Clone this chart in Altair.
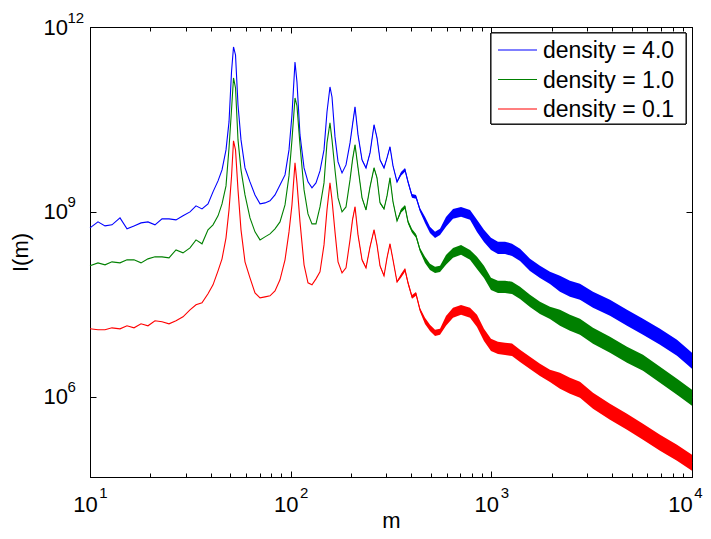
import altair as alt
import pandas as pd

# ---- data (m, and log10 of I(m)) ----
m = [10.0, 10.96, 11.88, 12.87, 14.11, 15.29, 16.57, 17.96, 19.45, 21.08,
     22.85, 24.76, 26.83, 29.07, 31.50, 33.75, 36.15, 38.73, 41.02, 43.45,
     45.49, 47.62, 49.29, 50.72, 51.90, 53.11, 54.65, 56.56, 59.21, 62.70,
     66.41, 70.36, 74.50, 78.89, 83.54, 88.46, 93.72, 98.10, 101.5, 105.1,
     107.5, 111.3, 116.6, 122.0, 127.7, 133.7, 140.0, 146.6, 151.7, 157.0,
     160.7, 166.3, 172.2, 180.3, 188.7, 197.6, 203.3, 209.3, 216.6, 226.8,
     237.4, 248.6, 260.3, 269.3, 278.8, 291.9, 302.1, 312.6, 323.6, 338.8,
     354.7, 371.4, 384.4, 402.4, 421.3, 441.1, 467.1, 494.6, 524.1, 555.0,
     594.4, 644.2, 706.3, 783.1, 848.3, 919.1, 996.1, 1079, 1170, 1268,
     1390, 1558, 1748, 1960, 2198, 2466, 2765, 3211, 3902, 4743,
     5698, 6928, 8418, 10000]

log_I_d40 = [8.741, 8.838, 8.773, 8.790, 8.903, 8.725, 8.773, 8.822, 8.838, 8.790,
             8.887, 8.887, 8.871, 8.936, 9.000, 9.098, 9.049, 9.130, 9.325, 9.503,
             9.681, 10.006, 10.460, 11.271, 11.676, 11.546, 10.735, 10.168, 9.714, 9.487,
             9.276, 9.130, 9.146, 9.179, 9.276, 9.438, 9.600, 10.006, 10.573, 11.433,
             11.108, 10.249, 9.714, 9.487, 9.390, 9.471, 9.665, 10.006, 10.622, 11.027,
             10.865, 10.217, 9.811, 9.633, 9.763, 10.119, 10.411, 10.703, 10.249, 9.844,
             9.714, 9.957, 10.411, 10.200, 9.844, 9.714, 9.876, 10.054, 9.746, 9.487,
             9.617, 9.681, 9.487, 9.260, 9.244, 9.033, 8.871, 8.709, 8.627, 8.676,
             8.838, 8.968, 9.000, 8.952, 8.773, 8.611, 8.482, 8.417, 8.417, 8.384,
             8.303, 8.141, 8.028, 7.930, 7.833, 7.752, 7.703, 7.573, 7.444, 7.282,
             7.136, 6.974, 6.795, 6.584]

log_I_d10 = [8.125, 8.173, 8.141, 8.190, 8.173, 8.222, 8.222, 8.173, 8.238, 8.271,
             8.271, 8.255, 8.384, 8.336, 8.417, 8.546, 8.482, 8.709, 8.790, 8.936,
             9.130, 9.422, 10.038, 10.654, 11.173, 11.011, 10.168, 9.681, 9.276, 8.903,
             8.676, 8.546, 8.595, 8.644, 8.725, 8.838, 9.114, 9.584, 10.168, 10.849,
             10.719, 10.087, 9.357, 8.968, 8.806, 8.806, 9.081, 9.471, 10.119, 10.444,
             10.168, 9.681, 9.227, 9.000, 9.081, 9.519, 9.844, 10.087, 9.714, 9.227,
             9.033, 9.406, 9.714, 9.552, 9.146, 9.049, 9.260, 9.552, 9.163, 8.854,
             9.017, 9.081, 8.838, 8.692, 8.611, 8.384, 8.222, 8.109, 8.060, 8.076,
             8.222, 8.336, 8.384, 8.303, 8.173, 8.028, 7.833, 7.784, 7.784, 7.768,
             7.687, 7.557, 7.444, 7.363, 7.282, 7.201, 7.136, 6.990, 6.844, 6.682,
             6.552, 6.357, 6.163, 5.984]

log_I_d01 = [7.103, 7.087, 7.087, 7.119, 7.103, 7.152, 7.119, 7.184, 7.152, 7.233,
             7.217, 7.184, 7.233, 7.298, 7.411, 7.492, 7.525, 7.671, 7.817, 8.044,
             8.238, 8.579, 9.033, 9.568, 10.152, 10.006, 9.357, 8.709, 8.190, 7.930,
             7.687, 7.606, 7.622, 7.638, 7.719, 7.898, 8.222, 8.676, 9.114, 9.795,
             9.471, 8.838, 8.141, 7.849, 7.817, 7.914, 8.028, 8.465, 9.033, 9.471,
             9.195, 8.676, 8.190, 8.011, 8.092, 8.546, 8.871, 9.081, 8.627, 8.222,
             8.092, 8.433, 8.709, 8.465, 8.125, 7.963, 8.255, 8.482, 8.222, 7.865,
             7.963, 8.060, 7.849, 7.622, 7.671, 7.411, 7.233, 7.119, 7.038, 7.055,
             7.233, 7.363, 7.411, 7.363, 7.233, 7.006, 6.844, 6.795, 6.779, 6.763,
             6.665, 6.552, 6.438, 6.341, 6.260, 6.179, 6.114, 5.936, 5.757, 5.595,
             5.433, 5.255, 5.093, 4.930]

# half-width of the noisy band (decades)
noise = [0, 0, 0, 0, 0, 0, 0, 0, 0, 0,
         0, 0, 0, 0, 0, 0, 0, 0, 0, 0,
         0, 0, 0, 0, 0, 0, 0, 0, 0, 0,
         0, 0, 0, 0, 0, 0, 0, 0, 0, 0,
         0, 0, 0, 0, 0, 0, 0, 0, 0, 0,
         0, 0, 0, 0, 0, 0, 0.015, 0.015, 0.015, 0.015,
         0.015, 0.015, 0.015, 0.015, 0.015, 0.015, 0.015, 0.015, 0.015, 0.015,
         0.03, 0.03, 0.03, 0.03, 0.03, 0.03, 0.05, 0.05, 0.05, 0.05,
         0.08, 0.08, 0.08, 0.08, 0.10, 0.10, 0.10, 0.10, 0.10, 0.10,
         0.10, 0.10, 0.10, 0.10, 0.13, 0.13, 0.13, 0.13, 0.13, 0.13,
         0.13, 0.13, 0.13, 0.13]

series_names = ["density = 4.0", "density = 1.0", "density = 0.1"]
series_colors = ["#0000ff", "#008000", "#ff0000"]
x_major = [10, 100, 1000, 10000]
x_minor = [20, 30, 40, 50, 60, 70, 80, 90,
           200, 300, 400, 500, 600, 700, 800, 900,
           2000, 3000, 4000, 5000, 6000, 7000, 8000, 9000]
y_major = [1e6, 1e9, 1e12]

rows = []
for name, logs in zip(series_names, [log_I_d40, log_I_d10, log_I_d01]):
    for mi, li, s in zip(m, logs, noise):
        rows.append({"m": mi, "I": 10 ** li, "lo": 10 ** (li - s),
                     "hi": 10 ** (li + s), "series": name, "grp": name})
df = pd.DataFrame(rows)
legend_df = pd.DataFrame({"series": series_names})

W, H = 602, 450
FONT = "Liberation Sans"
xs = alt.Scale(type="log", domain=[10, 10000])
ys = alt.Scale(type="log", domain=[5e4, 1e12])
cscale = alt.Scale(domain=series_names, range=series_colors)
base = alt.Chart(df)
exp_expr = "'' + round(log(datum.value) / LN10)"
major_test = "abs(log(datum.value)/LN10 - round(log(datum.value)/LN10)) < 0.001"
last_test = "datum.value > 5000"

band = base.mark_area(opacity=1).encode(
    x=alt.X("m:Q", scale=xs, axis=None),
    y=alt.Y("lo:Q", scale=ys, axis=None),
    y2="hi:Q",
    fill=alt.Fill("grp:N", scale=cscale, legend=None),
)

lines = base.mark_line(strokeWidth=1.1).encode(
    x=alt.X("m:Q", scale=xs, axis=alt.Axis(
        orient="bottom", values=x_major, labelExpr="'10'", labelFontSize=22, labelPadding=17,
        labelOffset={"condition": {"test": last_test, "value": -12}, "value": -5},
        labelFlush=False, labelOverlap=False,
        ticks=False, domain=False, grid=False, title="m", titleFontSize=22,
        titleFontWeight="normal", titlePadding=-5)),
    y=alt.Y("I:Q", scale=ys, axis=alt.Axis(
        orient="left", values=y_major, labelExpr="'10'", labelFontSize=22, labelAlign="left",
        labelBaseline="middle", labelPadding=47, labelFlush=False, labelOverlap=False,
        ticks=False, domain=False, grid=False,
        title="I(m)", titleFontSize=22, titleFontWeight="normal", titlePadding=11)),
    color=alt.Color("series:N", scale=cscale, legend=None),
)

def ghost(xaxis, yaxis):
    return base.mark_line(strokeOpacity=0).encode(
        x=alt.X("m:Q", scale=xs, axis=xaxis),
        y=alt.Y("I:Q", scale=ys, axis=yaxis),
        detail="series:N",
    )

exps = ghost(
    alt.Axis(orient="bottom", values=x_major, labelExpr=exp_expr, labelFontSize=15,
             labelPadding=8,
             labelOffset={"condition": {"test": last_test, "value": 6}, "value": 13},
             labelFlush=False, labelOverlap=False,
             ticks=False, domain=False, grid=False, title=None),
    alt.Axis(orient="left", values=y_major, labelExpr=exp_expr, labelFontSize=15,
             labelAlign="left", labelBaseline="middle", labelPadding=23, labelOffset=-10,
             labelFlush=False, labelOverlap=False, ticks=False, domain=False, grid=False,
             title=None),
)

tick_size = {"condition": {"test": major_test, "value": 6}, "value": 4}
tick_style = dict(labels=False, grid=False, title=None, tickColor="black", tickWidth=1,
                  domain=True, domainColor="black", domainWidth=1)
ticks_a = ghost(
    alt.Axis(orient="top", offset=-H, values=x_major + x_minor, tickSize=tick_size, **tick_style),
    alt.Axis(orient="right", offset=-W, values=y_major, tickSize=6, **tick_style),
)
ticks_b = ghost(
    alt.Axis(orient="bottom", offset=-H, values=x_major + x_minor, tickSize=tick_size, **tick_style),
    alt.Axis(orient="left", offset=-W, values=y_major, tickSize=6, **tick_style),
)

main = alt.layer(band, lines, exps, ticks_a, ticks_b).resolve_axis(
    x="independent", y="independent"
)

# ---- legend box (inside the top-right corner of the plot) ----
lg = alt.Chart(legend_df)
lg_y = alt.Y("series:N", sort=series_names, axis=None,
             scale=alt.Scale(type="point", domain=series_names, range=[23, 82], padding=0))
lg_box = lg.mark_rect(fill="white", stroke="black", strokeWidth=1).encode(
    x=alt.value(401), x2=alt.value(596), y=alt.value(6), y2=alt.value(97)
)
lg_sym = lg.mark_rule(strokeWidth=1.1).encode(
    x=alt.value(408), x2=alt.value(447), y=lg_y,
    color=alt.Color("series:N", scale=cscale, legend=None),
)
lg_txt = lg.mark_text(align="left", baseline="middle", font=FONT, fontSize=23,
                      color="black", dy=1).encode(
    x=alt.value(453), y=lg_y, text="series:N"
)
legend_layer = alt.layer(lg_box, lg_sym, lg_txt)

chart = alt.layer(main, legend_layer).resolve_scale(
    y="independent"
).properties(
    width=W, height=H, background="white",
    autosize=alt.AutoSizeParams(type="none"),
    padding={"left": 82, "top": 19, "right": 11, "bottom": 54},
).configure_view(
    stroke="black", strokeWidth=1
).configure_axis(
    labelFont=FONT, titleFont=FONT, labelColor="black", titleColor="black"
)

chart.save("out.html", embed_options={"renderer": "svg", "actions": False})
